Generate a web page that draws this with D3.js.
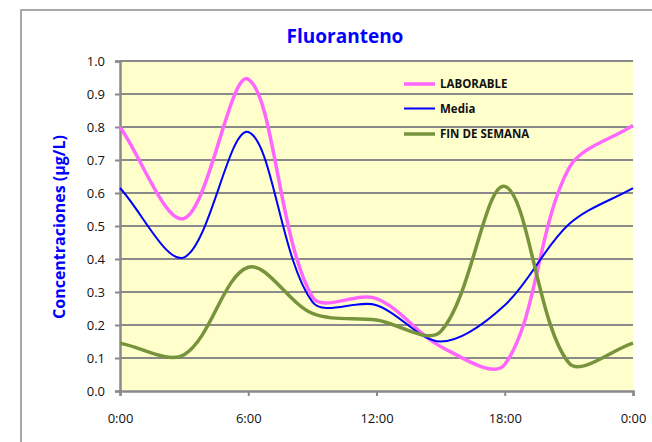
<!DOCTYPE html>
<html><head><meta charset="utf-8">
<script src="https://cdn.jsdelivr.net/npm/d3@7"></script>
<style>body{margin:0;background:#fff}svg{display:block}</style>
</head><body><svg id="c" width="652" height="442"></svg>
<script>
// ---- data ----
const hours = [0, 3, 6, 9, 12, 15, 18, 21, 24];
const laborable = [0.80, 0.523, 0.945, 0.285, 0.28, 0.135, 0.08, 0.675, 0.805];
const media = [0.615, 0.405, 0.785, 0.27, 0.26, 0.15, 0.26, 0.505, 0.615];
const finDeSemana = [0.145, 0.11, 0.375, 0.235, 0.215, 0.18, 0.62, 0.085, 0.145];
const seriesNames = ["LABORABLE", "Media", "FIN DE SEMANA"];
const xTickValues = [0, 6, 12, 18, 24];
const xTickLabels = ["0:00", "6:00", "12:00", "18:00", "0:00"];
const yTickValues = [0, 0.1, 0.2, 0.3, 0.4, 0.5, 0.6, 0.7, 0.8, 0.9, 1.0];
const titleText = "Fluoranteno";
const yLabelText = "Concentraciones (µg/L)";

// ---- layout ----
const svg = d3.select("#c");
const L = 120, R = 633, T = 61, B = 391;
const x = d3.scaleLinear().domain([0, 24]).range([L, R]);
const y = d3.scaleLinear().domain([0, 1]).range([B, T]);
const font = "'Open Sans', 'Liberation Sans', sans-serif";

// outer chart border
svg.append("rect").attr("x", 21).attr("y", 10).attr("width", 700).attr("height", 500)
  .attr("fill", "#fff").attr("stroke", "#8c8c8c").attr("stroke-width", 1.5);

// plot area
svg.append("rect").attr("x", L).attr("y", T).attr("width", R - L).attr("height", B - T)
  .attr("fill", "#ffffcc");

// gridlines
svg.append("g").selectAll("line").data(yTickValues.filter(v => v > 0)).join("line")
  .attr("x1", L).attr("x2", R).attr("y1", d => y(d)).attr("y2", d => y(d))
  .attr("stroke", "#8a8a8a").attr("stroke-width", 2);

// axes
const yAxis = d3.axisLeft(y).tickValues(yTickValues).tickFormat(d3.format(".1f")).tickSize(5).tickPadding(10);
const gy = svg.append("g").attr("transform", `translate(${L},0)`).call(yAxis);
const xAxis = d3.axisBottom(x).tickValues(xTickValues).tickFormat((d, i) => xTickLabels[i]).tickSize(5).tickPadding(18);
const gx = svg.append("g").attr("transform", `translate(0,${B})`).call(xAxis);
[gx, gy].forEach(g => {
  g.select(".domain").attr("stroke", "#8a8a8a").attr("stroke-width", 2.5);
  g.selectAll(".tick line").attr("stroke", "#8a8a8a").attr("stroke-width", 2);
  g.selectAll(".tick text").attr("fill", "#111").style("font-family", font).style("font-size", "13px");
});

// Excel-like smoothing
function excelSmooth(pts) {
  const p = d3.path();
  const n = pts.length;
  const dist = (a, b) => Math.hypot(b[0] - a[0], b[1] - a[1]);
  p.moveTo(pts[0][0], pts[0][1]);
  for (let i = 0; i < n - 1; i++) {
    const p0 = pts[Math.max(i - 1, 0)], p1 = pts[i], p2 = pts[i + 1], p3 = pts[Math.min(i + 2, n - 1)];
    const d01 = dist(p0, p1), d12 = dist(p1, p2), d23 = dist(p2, p3);
    const f1 = (d01 + d12) > 0 ? d12 / (d01 + d12) / 3 : 0;
    const f2 = (d12 + d23) > 0 ? d12 / (d12 + d23) / 3 : 0;
    const c1 = [p1[0] + (p2[0] - p0[0]) * f1, p1[1] + (p2[1] - p0[1]) * f1];
    const c2 = [p2[0] - (p3[0] - p1[0]) * f2, p2[1] - (p3[1] - p1[1]) * f2];
    p.bezierCurveTo(c1[0], c1[1], c2[0], c2[1], p2[0], p2[1]);
  }
  return p.toString();
}

const series = [
  { name: seriesNames[0], values: laborable, color: "#ff66ff", width: 3.5 },
  { name: seriesNames[1], values: media, color: "#0000ff", width: 2 },
  { name: seriesNames[2], values: finDeSemana, color: "#77933c", width: 3.5 }
];
series.forEach(s => {
  const pts = hours.map((h, i) => [x(h), y(s.values[i])]);
  svg.append("path").attr("d", excelSmooth(pts)).attr("fill", "none")
    .attr("stroke", s.color).attr("stroke-width", s.width).attr("stroke-linejoin", "round");
});

// legend
const legRows = [84, 108.5, 134];
series.forEach((s, i) => {
  svg.append("line").attr("x1", 404).attr("x2", 435).attr("y1", legRows[i]).attr("y2", legRows[i])
    .attr("stroke", s.color).attr("stroke-width", s.width);
  svg.append("text").attr("x", 440).attr("y", legRows[i]).attr("dy", "0.35em")
    .style("font-family", font).style("font-weight", "bold").style("font-size", "11.5px")
    .attr("fill", "#111").text(s.name);
});

// title
svg.append("text").attr("x", 345).attr("y", 43).attr("text-anchor", "middle")
  .style("font-family", font).style("font-weight", "bold").style("font-size", "19px")
  .attr("fill", "#0000ff").text(titleText);

// y label
svg.append("text").attr("transform", "translate(59,227) rotate(-90)").attr("text-anchor", "middle")
  .attr("dy", "0.35em")
  .style("font-family", font).style("font-weight", "bold").style("font-size", "16px")
  .attr("fill", "#0000ff").text(yLabelText);
</script></body></html>
